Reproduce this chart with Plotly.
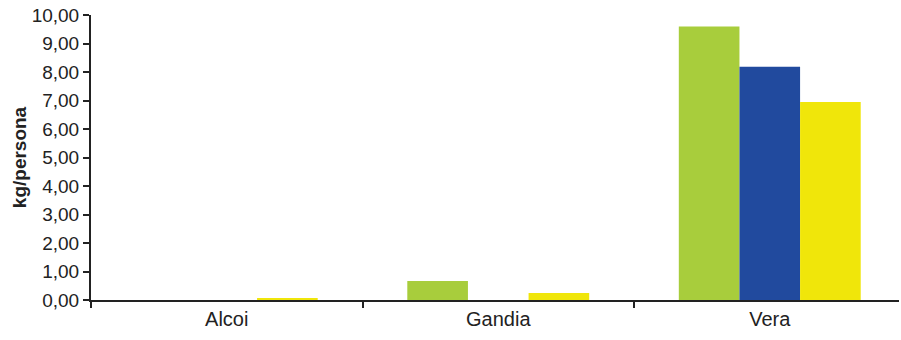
import plotly.graph_objects as go

categories = ["Alcoi", "Gandia", "Vera"]
series_green = [0.0, 0.67, 9.60]
series_blue = [0.0, 0.0, 8.18]
series_yellow = [0.07, 0.25, 6.95]
y_ticks = [0, 1, 2, 3, 4, 5, 6, 7, 8, 9, 10]

colors = ["#A8CD3C", "#214A9E", "#F0E60A"]

fig = go.Figure()
for vals, col, name in zip([series_green, series_blue, series_yellow], colors, ["s1", "s2", "s3"]):
    fig.add_trace(go.Bar(x=categories, y=vals, name=name, marker=dict(color=col, line=dict(width=0))))

fig.update_layout(
    width=901, height=340,
    barmode="group", bargap=0.33, bargroupgap=0,
    showlegend=False,
    plot_bgcolor="white", paper_bgcolor="white",
    separators=",.",
    margin=dict(l=91, r=2, t=15, b=40, autoexpand=False),
    font=dict(family="Liberation Sans, Arial", size=19, color="#222"),
    xaxis=dict(range=[-0.5, 2.476], showline=True, linecolor="#222", linewidth=2, ticks="outside",
               tickson="boundaries", ticklen=6, tickwidth=2, tickcolor="#222", showgrid=False,
               tickfont=dict(size=20), automargin=False),
    yaxis=dict(range=[0, 10], tickvals=y_ticks, tickformat=".2f", showline=True, linecolor="#222",
               linewidth=2, ticks="outside", ticklen=6, tickwidth=2, tickcolor="#222", showgrid=False,
               zeroline=False, tickfont=dict(size=19), automargin=False,
               title=dict(text="<b>kg/persona</b>", font=dict(size=19), standoff=0)),
)

fig.write_html(
    "out.html",
    config={"displayModeBar": False},
    post_script="document.body.style.margin='0';document.body.style.overflow='hidden';"
                "document.documentElement.style.overflow='hidden';",
)
